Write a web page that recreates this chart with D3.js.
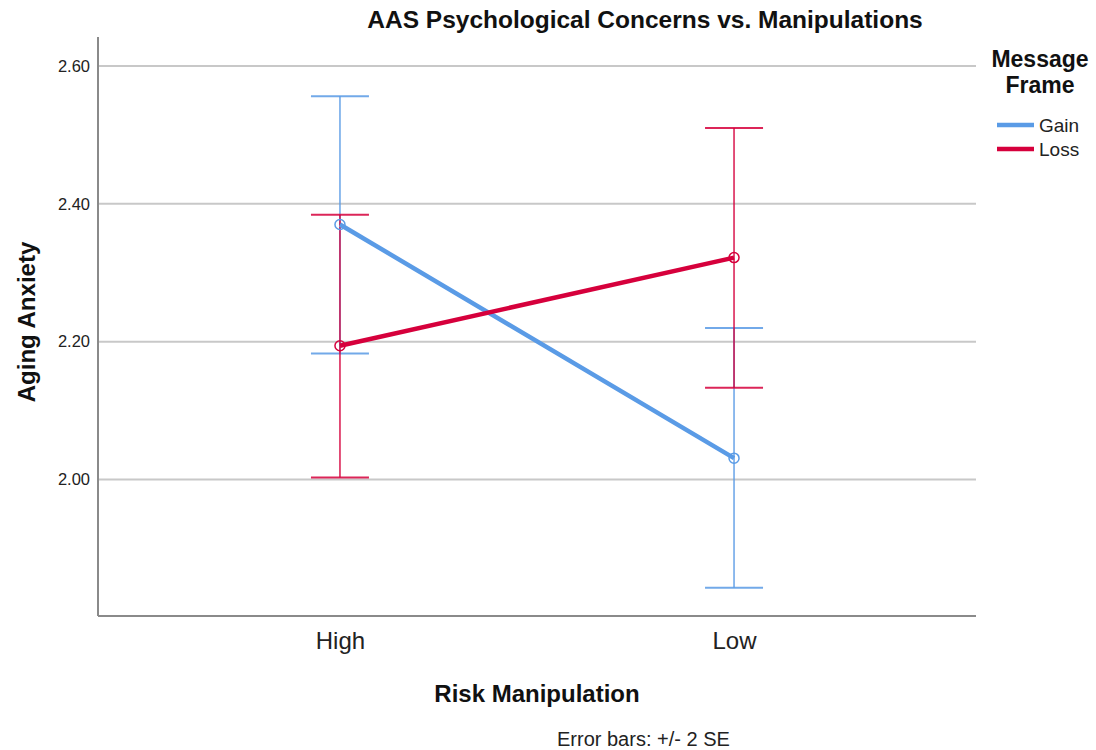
<!DOCTYPE html>
<html><head><meta charset="utf-8">
<script src="https://cdn.jsdelivr.net/npm/d3@7"></script>
<style>body{margin:0;background:#fff}svg{display:block;font-family:Arial,"Liberation Sans",sans-serif}</style>
</head><body><svg id="c" width="1096" height="750"></svg>
<script>
const categories = ["High", "Low"];
const seriesNames = ["Gain", "Loss"];
const gainMeans = [2.370, 2.031];
const gainLower = [2.183, 1.843];
const gainUpper = [2.556, 2.220];
const lossMeans = [2.194, 2.322];
const lossLower = [2.003, 2.133];
const lossUpper = [2.384, 2.510];
const yTicks = [2.00, 2.20, 2.40, 2.60];
const colors = ["#5a9be6", "#d6003c"];

const series = [
  {name: seriesNames[0], means: gainMeans, lo: gainLower, hi: gainUpper, color: colors[0]},
  {name: seriesNames[1], means: lossMeans, lo: lossLower, hi: lossUpper, color: colors[1]}
];

const svg = d3.select("#c");
const L = 98, R = 976, T = 37, B = 616;
const x = d3.scalePoint().domain(categories).range([L, R]).padding(0.614);
const y = d3.scaleLinear().domain([1.802, 2.642]).range([B, T]);

// gridlines
svg.append("g").selectAll("line").data(yTicks).join("line")
  .attr("x1", L).attr("x2", R).attr("y1", d => y(d)).attr("y2", d => y(d))
  .attr("stroke", "#c8c8c8").attr("stroke-width", 2);

// y axis
const ya = svg.append("g").attr("transform", `translate(${L},0)`)
  .call(d3.axisLeft(y).tickValues(yTicks).tickFormat(d3.format(".2f")).tickSize(0).tickPadding(8));
ya.select(".domain").remove();
ya.selectAll("text").attr("font-size", 16.5).attr("fill", "#222").attr("font-family", "Arial, Liberation Sans, sans-serif");
svg.append("line").attr("x1", L).attr("x2", L).attr("y1", T).attr("y2", B).attr("stroke", "#8a8a8a").attr("stroke-width", 2);

// x axis
const xa = svg.append("g").attr("transform", `translate(0,${B})`)
  .call(d3.axisBottom(x).tickSize(0).tickPadding(16));
xa.select(".domain").remove();
xa.selectAll("text").attr("font-size", 24).attr("fill", "#222").attr("font-family", "Arial, Liberation Sans, sans-serif");
svg.append("line").attr("x1", L).attr("x2", R).attr("y1", B).attr("y2", B).attr("stroke", "#8a8a8a").attr("stroke-width", 2);

// error bars
const capW = 29;
series.forEach(s => {
  const g = svg.append("g");
  categories.forEach((c, i) => {
    const cx = x(c);
    g.append("line").attr("x1", cx).attr("x2", cx).attr("y1", y(s.lo[i])).attr("y2", y(s.hi[i]))
      .attr("stroke", s.color).attr("stroke-width", 1.6).attr("opacity", 0.85);
    [s.lo[i], s.hi[i]].forEach(v => {
      g.append("line").attr("x1", cx - capW).attr("x2", cx + capW).attr("y1", y(v)).attr("y2", y(v))
        .attr("stroke", s.color).attr("stroke-width", 2).attr("opacity", 0.85);
    });
  });
});

// lines and markers
const line = d3.line().x((d, i) => x(categories[i])).y(d => y(d));
series.forEach(s => {
  svg.append("path").datum(s.means).attr("d", line).attr("fill", "none")
    .attr("stroke", s.color).attr("stroke-width", 4.5);
  svg.append("g").selectAll("circle").data(s.means).join("circle")
    .attr("cx", (d, i) => x(categories[i])).attr("cy", d => y(d)).attr("r", 5)
    .attr("fill", "none").attr("stroke", s.color).attr("stroke-width", 1.5);
});

// title
svg.append("text").attr("x", 645).attr("y", 28).attr("text-anchor", "middle")
  .attr("font-size", 24.5).attr("font-weight", "bold").attr("fill", "#111")
  .text("AAS Psychological Concerns vs. Manipulations");

// axis titles
svg.append("text").attr("transform", `translate(35,322) rotate(-90)`)
  .attr("text-anchor", "middle").attr("font-size", 24).attr("font-weight", "bold").attr("fill", "#111")
  .text("Aging Anxiety");
svg.append("text").attr("x", 537).attr("y", 702).attr("text-anchor", "middle")
  .attr("font-size", 24).attr("font-weight", "bold").attr("fill", "#111")
  .text("Risk Manipulation");
svg.append("text").attr("x", 557).attr("y", 746)
  .attr("font-size", 20).attr("fill", "#222").text("Error bars: +/- 2 SE");

// legend
svg.append("text").attr("x", 1040).attr("y", 67).attr("text-anchor", "middle")
  .attr("font-size", 23).attr("font-weight", "bold").attr("fill", "#111").text("Message");
svg.append("text").attr("x", 1040).attr("y", 93).attr("text-anchor", "middle")
  .attr("font-size", 23).attr("font-weight", "bold").attr("fill", "#111").text("Frame");
series.forEach((s, i) => {
  const ly = 125 + i * 24;
  svg.append("line").attr("x1", 997).attr("x2", 1034).attr("y1", ly).attr("y2", ly)
    .attr("stroke", s.color).attr("stroke-width", 4.5);
  svg.append("text").attr("x", 1039).attr("y", ly + 7).attr("font-size", 19).attr("fill", "#222").text(s.name);
});
</script></body></html>
